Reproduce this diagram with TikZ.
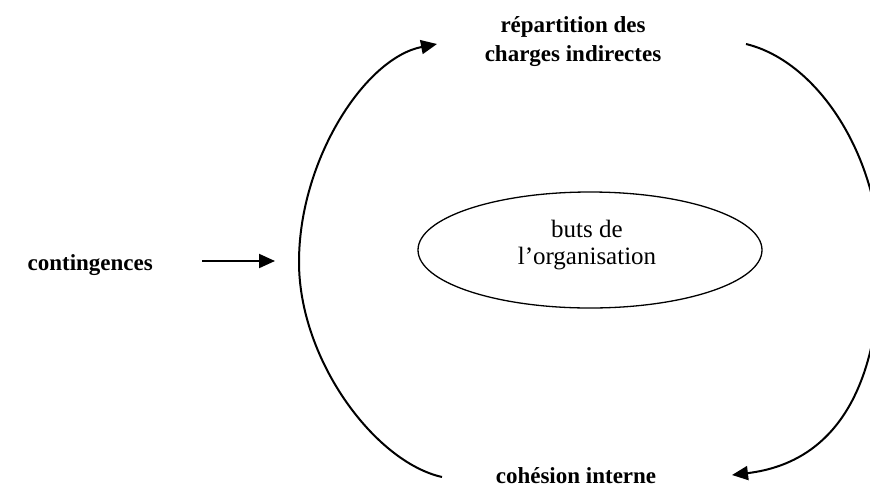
\documentclass[tikz,border=0pt]{standalone}
\usepackage{fontspec}
\setmainfont{Liberation Serif}
\usetikzlibrary{arrows.meta,shapes.geometric}
\tikzset{
  lbl/.style={font=\bfseries\fontsize{23}{29}\selectfont, inner sep=0pt, align=center},
  etext/.style={font=\fontsize{25}{27}\selectfont, inner sep=0pt, align=center},
  conn/.style={line width=2pt, -{Triangle[length=16pt,width=14pt]}},
  goal/.style={draw, line width=1.3pt, ellipse, minimum width=344pt, minimum height=116pt, inner sep=0pt}
}
\begin{document}
\begin{tikzpicture}[x=1pt,y=-1pt]
\path[use as bounding box] (0,0) rectangle (870,488);
\clip (0,0) rectangle (870,488);
\node[lbl] (rep) at (573,42) {répartition des\\charges indirectes};
\node[lbl, anchor=base] (coh) at (576,483) {cohésion interne};
\node[lbl, anchor=base east] (cont) at (153,270) {contingences};
\node[goal] (buts) at (590,250) {};
\node[etext] (butstxt) at (587,245) {buts de\\l’organisation};
\coordinate (cin) at (202,261);
\coordinate (cout) at (275,261);
\coordinate (lb) at (442,477);
\coordinate (lm) at (299,262);
\coordinate (lt) at (437,44);
\coordinate (rt) at (746,44);
\coordinate (rm) at (880,260);
\coordinate (rb) at (732,475);
\draw[conn] (cin) -- (cout);
\draw[conn] (lb) .. controls (375,462) and (299,360) .. (lm) .. controls (299,160) and (365,58) .. (lt);
\draw[conn] (rt) .. controls (820,62) and (880,160) .. (rm) .. controls (880,380) and (840,462) .. (rb);
\end{tikzpicture}
\end{document}
